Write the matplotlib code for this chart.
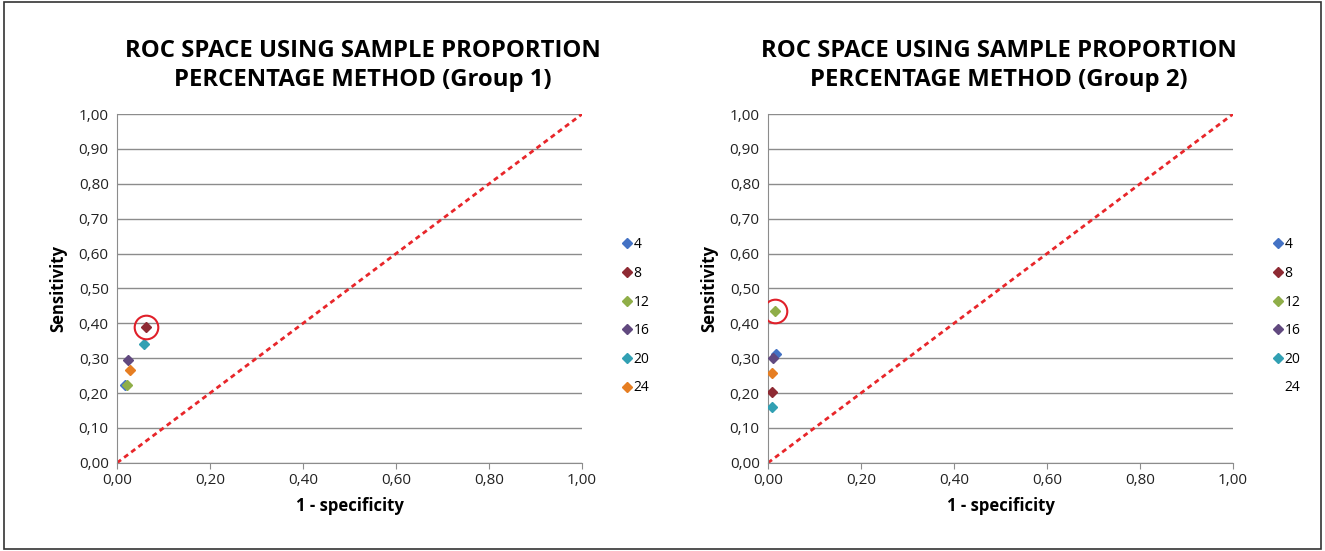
import matplotlib.pyplot as plt
from matplotlib.ticker import FuncFormatter
from matplotlib.lines import Line2D
from matplotlib.patches import Rectangle

plt.rcParams['font.family'] = ['Open Sans', 'DejaVu Sans']

series = ['4', '8', '12', '16', '20', '24']
colors = ['#4472C4', '#8E2A33', '#8FAE48', '#61497F', '#31A0B3', '#E67E22']

# group 1: (1 - specificity, sensitivity)
g1_x = [0.017, 0.062, 0.022, 0.024, 0.058, 0.028]
g1_y = [0.223, 0.390, 0.222, 0.295, 0.341, 0.265]
# group 2
g2_x = [0.017, 0.009, 0.015, 0.011, 0.009, 0.009]
g2_y = [0.312, 0.204, 0.434, 0.300, 0.161, 0.259]

titles = ['ROC SPACE USING SAMPLE PROPORTION\nPERCENTAGE METHOD (Group 1)',
          'ROC SPACE USING SAMPLE PROPORTION\nPERCENTAGE METHOD (Group 2)']
ticks = [i / 10 for i in range(11)]
xticks = [i / 5 for i in range(6)]

fig = plt.figure(figsize=(13.25, 5.51), dpi=100)
fig.patches.append(Rectangle((0.003, 0.003), 0.994, 0.994, transform=fig.transFigure,
                             fill=False, edgecolor='#333333', linewidth=1.2))

fmt = FuncFormatter(lambda v, p: ('%.2f' % v).replace('.', ','))

panels = [(0.0883, g1_x, g1_y, titles[0], False, 0.529),
          (0.5796, g2_x, g2_y, titles[1], True, 0.496)]
for left, xs, ys, title, hide_last, tx in panels:
    ax = fig.add_axes([left, 0.16, 0.351, 0.633])
    ax.set_xlim(0, 1)
    ax.set_ylim(0, 1)
    ax.set_yticks(ticks)
    ax.set_xticks(xticks)
    ax.xaxis.set_major_formatter(fmt)
    ax.yaxis.set_major_formatter(fmt)
    ax.grid(axis='y', color='#8c8c8c', linewidth=1)
    ax.set_axisbelow(True)
    for s in ['top', 'right']:
        ax.spines[s].set_visible(False)
    for s in ['left', 'bottom']:
        ax.spines[s].set_color('#8c8c8c')
    ax.tick_params(axis='both', labelsize=11, colors='#222222', length=4, color='#8c8c8c')
    ax.tick_params(axis='y', length=0, pad=6)

    ax.plot([0, 1], [0, 1], color='#E8262A', linestyle=(0, (1.8, 1.4)), linewidth=2, zorder=2)

    handles = []
    for i, name in enumerate(series):
        ax.plot(xs[i], ys[i], marker='D', color=colors[i], markersize=5.5, linestyle='none', zorder=3)
        if hide_last and i == len(series) - 1:
            h = Line2D([], [], marker='D', color='none', markersize=5.5, linestyle='none')
        else:
            h = Line2D([], [], marker='D', color=colors[i], markersize=5.5, linestyle='none')
        handles.append(h)

    top = ys.index(max(ys))
    ax.plot(xs[top], ys[top], marker='o', markersize=17, markerfacecolor='none',
            markeredgecolor='#E0202A', markeredgewidth=1.5, linestyle='none', zorder=4)

    ax.legend(handles, series, loc='center left', bbox_to_anchor=(1.06, 0.42),
              frameon=False, fontsize=10, handlelength=0.6, handletextpad=0.2,
              labelspacing=0.98)

    ax.set_title(title, fontsize=17.2, fontweight='bold', pad=20, linespacing=1.32, x=tx)
    ax.set_xlabel('1 - specificity', fontsize=12, fontweight='bold', labelpad=6)
    ax.set_ylabel('Sensitivity', fontsize=12, fontweight='bold', labelpad=8)

fig.savefig('out.png', dpi=100)
